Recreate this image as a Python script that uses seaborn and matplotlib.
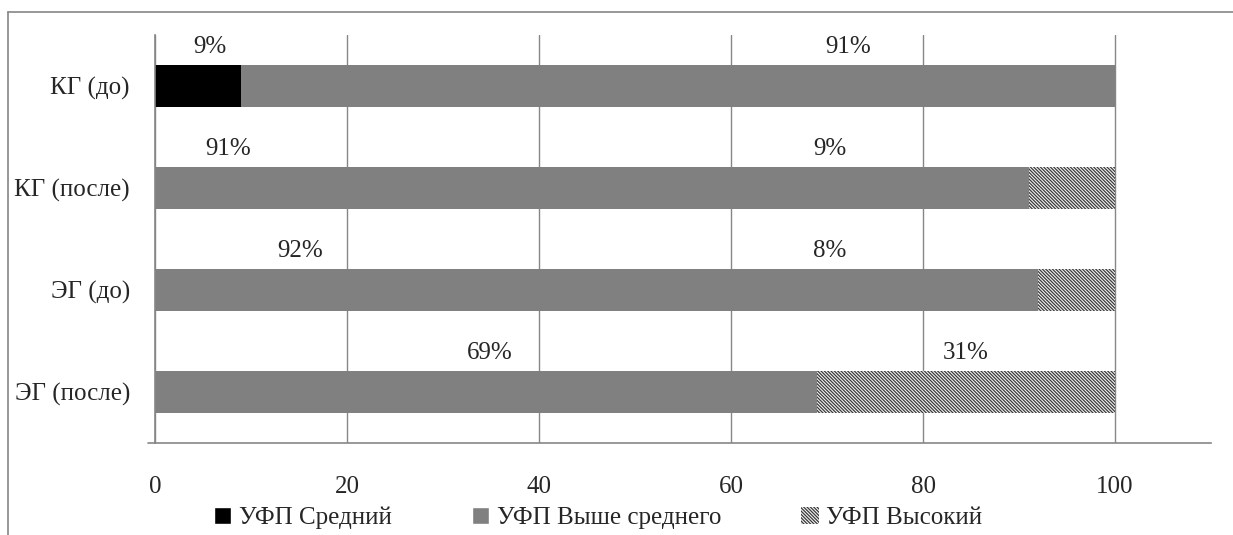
import matplotlib
matplotlib.use('Agg')
import matplotlib.pyplot as plt
import matplotlib.lines as mlines
import matplotlib.patches as mpatches
from matplotlib.ticker import FixedLocator
import pandas as pd
import seaborn as sns

# --------------------------------------------------
# Data
# --------------------------------------------------
groups = ['КГ (до)', 'КГ (после)', 'ЭГ (до)', 'ЭГ (после)']
level_mid = [9, 0, 0, 0]          # УФП Средний
level_above = [91, 91, 92, 69]    # УФП Выше среднего
level_high = [0, 9, 8, 31]        # УФП Высокий

series_names = ['УФП Средний', 'УФП Выше среднего', 'УФП Высокий']

# label texts and where they sit (moved by hand in the original)
label_texts = [['9%', '91%'], ['91%', '9%'], ['92%', '8%'], ['69%', '31%']]
label_x = [[5.7, 72.2], [7.6, 70.3], [15.1, 70.3], [34.9, 84.4]]

df = pd.DataFrame({'group': groups, 'mid': level_mid,
                   'above': level_above, 'high': level_high})
df['cum_above'] = df['mid'] + df['above']
df['cum_high'] = df['cum_above'] + df['high']

# --------------------------------------------------
# Style
# --------------------------------------------------
sns.set_style('white')
plt.rcParams['font.family'] = ['Liberation Serif', 'DejaVu Serif']
plt.rcParams['hatch.linewidth'] = 0.9
grey = '#868686'
hatch_pat = '\\' * 10
fs = 18

fig = plt.figure(figsize=(12.33, 5.35), dpi=100)
ax = fig.add_axes([155 / 1233, 92 / 535, 1056 / 1233, 408 / 535])

# stacked bars drawn back-to-front (totals first)
sns.barplot(data=df, x='cum_high', y='group', orient='h', color='#ffffff',
            width=0.42, ax=ax, linewidth=0, saturation=1)
for p in ax.patches:
    p.set_hatch(hatch_pat)
    p.set_facecolor('#f4f4f4')
    p.set_edgecolor('#3a3a3a')
    p.set_linewidth(0)
sns.barplot(data=df, x='cum_above', y='group', orient='h', color='#808080',
            width=0.42, ax=ax, linewidth=0, saturation=1)
sns.barplot(data=df, x='mid', y='group', orient='h', color='#000000',
            width=0.42, ax=ax, linewidth=0, saturation=1)

# value labels above the bars
for i, (texts, xs) in enumerate(zip(label_texts, label_x)):
    for t, xv in zip(texts, xs):
        ax.text(xv, i - 0.38, t, ha='center', va='center', fontsize=fs)

# --------------------------------------------------
# Axes
# --------------------------------------------------
ax.set_xlim(0, 110)
ax.set_ylim(3.5, -0.5)
ax.set_xticks([0, 20, 40, 60, 80, 100])
ax.set_xlabel('')
ax.set_ylabel('')
ax.xaxis.grid(True, color=grey, linewidth=1)
ax.set_axisbelow(True)

for s in ['top', 'right']:
    ax.spines[s].set_visible(False)
for s in ['left', 'bottom']:
    ax.spines[s].set_color(grey)
    ax.spines[s].set_linewidth(1.2)

ax.tick_params(axis='x', length=7, color=grey, width=1, pad=17, labelsize=fs)
ax.tick_params(axis='y', which='major', length=0, pad=18, labelsize=fs)
ax.yaxis.set_minor_locator(FixedLocator([-0.5, 0.5, 1.5, 2.5, 3.5]))
ax.tick_params(axis='y', which='minor', length=7, color=grey, width=1)

# bottom spine reaches a bit left of the y axis
ax.plot([-0.75, 0], [3.5, 3.5], color=grey, lw=1.2, clip_on=False)

# --------------------------------------------------
# Legend
# --------------------------------------------------
handles = [mpatches.Patch(facecolor='#000000', label=series_names[0]),
           mpatches.Patch(facecolor='#808080', label=series_names[1]),
           mpatches.Patch(facecolor='#f4f4f4', hatch=hatch_pat,
                          edgecolor='#3a3a3a', linewidth=0,
                          label=series_names[2])]
fig.legend(handles=handles, loc='center', bbox_to_anchor=(0.485, 0.032),
           ncol=3, frameon=False, fontsize=fs, handlelength=0.7,
           handleheight=0.7, handletextpad=0.3, columnspacing=3.2)

# outer chart frame (partly cropped)
fig.add_artist(mlines.Line2D([8 / 1233, 1], [1 - 12 / 535, 1 - 12 / 535],
                             color=grey, lw=1.2, transform=fig.transFigure))
fig.add_artist(mlines.Line2D([8 / 1233, 8 / 1233], [0, 1 - 12 / 535],
                             color=grey, lw=1.2, transform=fig.transFigure))

fig.savefig('out.png', dpi=100)
